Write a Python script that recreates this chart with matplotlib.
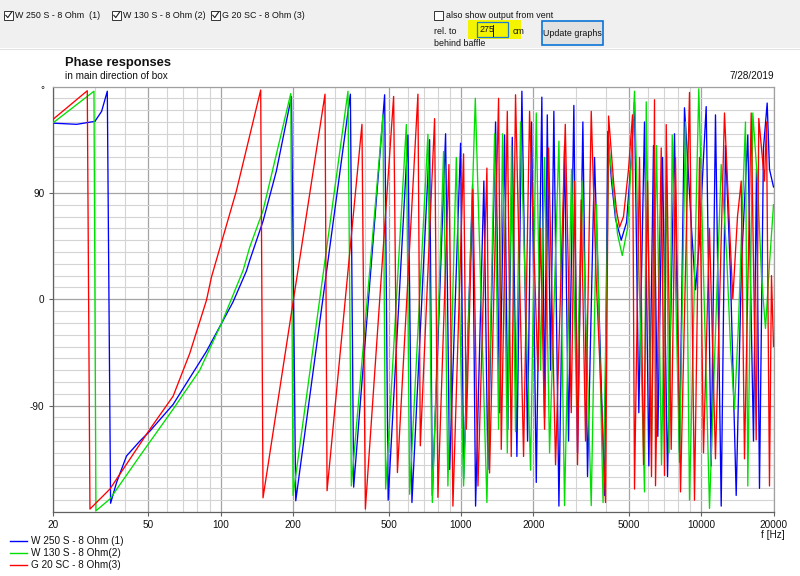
import matplotlib
matplotlib.use("Agg")
import matplotlib.pyplot as plt
from matplotlib.patches import Rectangle
from matplotlib.lines import Line2D
from matplotlib.ticker import FixedLocator, MultipleLocator, NullFormatter, LogLocator

plt.rcParams['font.family'] = ['Liberation Sans', 'DejaVu Sans']

# ---------------- data ----------------
series_names = ["W 250 S - 8 Ohm (1)", "W 130 S - 8 Ohm(2)", "G 20 SC - 8 Ohm(3)"]
top_names = ["W 250 S - 8 Ohm  (1)", "W 130 S - 8 Ohm (2)", "G 20 SC - 8 Ohm (3)"]
series_colors = ["#0000ff", "#00e000", "#ff0000"]

w250_freq = [20, 25.16, 29.98, 31.96, 33.75, 34.83, 36.89, 40.58, 46.11, 50.74, 63.42, 72.08,
             87.31, 100.8, 112.6, 128.1, 132.1, 150.1, 170.6, 197.1, 205.4, 346.7, 357.8,
             481.5, 498, 601.9, 625.4, 740.9, 760.3, 863.5, 897.3, 997, 1026, 1118, 1151,
             1246, 1295, 1394, 1449, 1520, 1568, 1636, 1710, 1794, 1894, 1968, 2059, 2172,
             2229, 2288, 2361, 2437, 2558, 2700, 2805, 2952, 3058, 3218, 3365, 3599, 3961,
             4088, 4235, 4400, 4648, 4890, 5081, 5279, 5501, 5810, 6055, 6333, 6600, 6904,
             7243, 7745, 8125, 8523, 8773, 9115, 9470, 9841, 10225, 10493, 11009, 11470,
             12116, 12623, 13245, 13988, 14717, 15632, 16509, 16990, 17487, 18169, 18823,
             19245, 20000]
w250_phase = [149, 148, 150.5, 159, 176, -172.6, -155, -132.6, -120, -111.6, -89, -71,
              -44, -20.5, -2.3, 24, 32.8, 66, 108.5, 171.6, -170.5, 173.5, -159,
              173, -170, 139, -172, 135, -166, 140, -144, 132, -152, 97, -175,
              100, -144, 150, -96, 139, -110, 137, -133, 176, -120, 150, -155, 171,
              -100, 156, -60, 159, -175, 130, -120, 164, -130, 150, -150, 120, -166,
              142, 100, 68, 50, 65, 110, 167, -96, 150, -141, 130, -116, 120,
              -150, 140, -130, 162, 120, 60, 8, 50, 120, 163, -141, 156,
              -175, 130, 20, -166, 30, 139, -120, 110, -160, 128, 166,
              110, 95]

w130_freq = [20, 29.70, 30.27, 34.60, 46.11, 63.42, 81.88, 100.8, 124.0, 132.1, 150.1, 195.8,
             200.2, 338.8, 350.0, 473.8, 486.1, 592.8, 611.8, 728.9, 760.3, 847.1, 882.7,
             956.8, 1026, 1148, 1283, 1381, 1435, 1491, 1560, 1625, 1688, 1771, 1949, 2059,
             2145, 2229, 2339, 2558, 2700, 2887, 3029, 3187, 3487, 3668, 3905, 4129, 4317,
             4486, 4693, 4937, 5130, 5279, 5810, 5906, 6213, 6518, 6838, 7173, 7348, 7577,
             8125, 8605, 8942, 9775, 10831, 12116, 12746, 13245, 13762, 14300, 14858, 15290,
             15632, 16402, 17154, 17824, 18519, 19245, 20000]
w130_phase = [149, 176, -179, -169, -132.6, -93, -60, -20.5, 24.4, 44, 75, 174,
              -166, 176, -158, 156, -160.6, 147.8, -165, 139.6, -172, 125, -158,
              120, -158, 170, -172, 140, -110, 140, -130, 130, -112, 150, -144.6, 157.6,
              -60, 120, -130, 133.8, -174.6, 110, -90, 100, -174.6, 80, -172, 130, 90,
              55, 37, 60, 120, 176, -163, 167, -120, 130, -140, 100, -130, 139,
              -138, 150, -170, 178, -177, 114, 40, -40, -93, -20, 80, 150,
              -158, 157.6, 100, 20, -24.7, 30, 80]

g20_freq = [20, 27.86, 28.58, 34.60, 50.74, 63.42, 74.41, 87.31, 91.59, 116.3, 146.8, 150.1,
            271.9, 277.3, 387.4, 400.3, 524.8, 544.2, 662.4, 677.7, 777.2, 802.2, 891.5,
            926.3, 1026, 1053, 1121.6, 1177.6, 1283, 1316, 1435, 1472, 1560, 1620, 1688,
            1823, 1931, 2090, 2145, 2229, 2317, 2477, 2719, 2879, 2971, 3058, 3168, 3302,
            3487, 3658, 3838, 3999, 4117, 4317, 4442, 4573, 4751, 4985, 5179, 5279, 5539,
            5755, 5980, 6213, 6394, 6456, 6819, 7037, 7154, 7504, 7819, 8203, 8942, 9380,
            9841, 10225, 10831, 11470, 12504, 12994, 13543, 14165, 14675, 15145, 16150,
            16942, 17369, 18344, 18699, 19245, 19617, 20000]
g20_phase = [152, 176.4, -177.5, -160.6, -110, -82, -45.7, -0.8, 18.8, 91.7, 177, -168,
             173.5, -162, 148, -177.5, 171.6, -146.6, 173.5, -124, 152.8, -167.6, 114,
             -175, 123, -110, 93, -158, 111, -147, 170, -127, 159, -133, 173,
             -133, 159, -61, 60, -110, 128, -140, 148, -96, 100, -140, 84, -120,
             159, 16, -82, -172, 155, 100, 75, 61, 70, 110, 156, -160.6, 120,
             -140, 100, -150, 168.8, -157.8, 128, -149, 147.8, -127, 119.7, -163, 175, -170,
             120, -130, 60, -135, 157.6, 80, 0.5, 70, 100, -135, 157.6,
             -119, 153, 100, 150, -158, 20, -40]

x_ticks = [20, 50, 100, 200, 500, 1000, 2000, 5000, 10000, 20000]
x_ticklabels = ["20", "50", "100", "200", "500", "1000", "2000", "5000", "10000", "20000"]
y_ticks = [-90, 0, 90]
y_ticklabels = ["-90", "0", "90"]

# ---------------- figure ----------------
W, H = 800, 576
fig = plt.figure(figsize=(W / 100, H / 100), dpi=100)
fig.patch.set_facecolor("white")


def fx(x):
    return x / W


def fy(y):
    return 1 - y / H


# top control bar
fig.patches.append(Rectangle((0, fy(48)), 1, 48 / H, transform=fig.transFigure,
                             facecolor="#f0f0f0", edgecolor="none", zorder=0))
fig.lines.append(Line2D([0, 1], [fy(48.5), fy(48.5)], transform=fig.transFigure,
                        color="#e2e2e2", lw=0.8))

FS = 7.2
FS_UI = 6.4


def checkbox(x, y, checked):
    fig.patches.append(Rectangle((fx(x), fy(y + 4.5)), 9 / W, 9 / H, transform=fig.transFigure,
                                 facecolor="white", edgecolor="#333333", lw=0.7, zorder=2))
    if checked:
        fig.lines.append(Line2D([fx(x + 1.8), fx(x + 3.8), fx(x + 7.5)],
                                [fy(y + 0.3), fy(y + 2.6), fy(y - 2.8)],
                                transform=fig.transFigure, color="#222222", lw=0.8, zorder=3))


box_x = [4, 112, 211]
text_x = [15, 123, 222]
for bx, tx, nm in zip(box_x, text_x, top_names):
    checkbox(bx, 15, True)
    fig.text(fx(tx), fy(15.5), nm, fontsize=FS_UI, va="center", ha="left", color="#111111")

checkbox(434, 15, False)
fig.text(fx(446), fy(15.5), "also show output from vent", fontsize=FS_UI, va="center", color="#111111")
fig.text(fx(434), fy(31), "rel. to", fontsize=FS_UI, va="center", color="#111111")
fig.text(fx(434), fy(43), "behind baffle", fontsize=FS_UI, va="center", color="#111111")
# yellow highlight and entry box
fig.patches.append(Rectangle((fx(468), fy(39)), 53 / W, 19 / H, transform=fig.transFigure,
                             facecolor="#f4f400", edgecolor="none", zorder=1))
fig.patches.append(Rectangle((fx(477), fy(37)), 31 / W, 15 / H, transform=fig.transFigure,
                             facecolor="none", edgecolor="#1a7ad6", lw=0.9, zorder=2))
fig.text(fx(480), fy(30), "275", fontsize=FS_UI, va="center", color="#111111", zorder=3)
fig.lines.append(Line2D([fx(493), fx(493)], [fy(24.5), fy(35.5)], transform=fig.transFigure,
                        color="#111111", lw=0.7, zorder=3))
fig.text(fx(513), fy(31), "cm", fontsize=FS_UI, va="center", color="#111111", zorder=3)
# button
fig.patches.append(Rectangle((fx(542), fy(45)), 61 / W, 24 / H, transform=fig.transFigure,
                             facecolor="#e1e1e1", edgecolor="#0a74d6", lw=1.2, zorder=2))
fig.text(fx(572.5), fy(33.5), "Update graphs", fontsize=FS_UI, va="center", ha="center",
         color="#111111", zorder=3)

# titles
fig.text(fx(65), fy(63), "Phase responses", fontsize=9.3, fontweight="bold", va="center", color="#111111")
fig.text(fx(65), fy(76), "in main direction of box", fontsize=FS, va="center", color="#111111")
fig.text(fx(774), fy(76), "7/28/2019", fontsize=FS, va="center", ha="right", color="#111111")

# ---------------- axes ----------------
x0, x1, y0, y1 = 52.7, 773.5, 86.5, 512
ax = fig.add_axes([fx(x0), fy(y1), (x1 - x0) / W, (y1 - y0) / H])
ax.set_xscale("log")
ax.set_xlim(20, 20000)
ax.set_ylim(-180, 180)

ax.xaxis.set_major_locator(FixedLocator(x_ticks))
ax.set_xticklabels(x_ticklabels)
ax.xaxis.set_minor_locator(LogLocator(base=10, subs=[1, 2, 3, 4, 5, 6, 7, 8, 9], numticks=30))
ax.xaxis.set_minor_formatter(NullFormatter())
ax.yaxis.set_major_locator(FixedLocator(y_ticks))
ax.set_yticklabels(y_ticklabels)
ax.yaxis.set_minor_locator(MultipleLocator(10))

ax.grid(True, which="minor", color="#d4d4d4", lw=0.8, zorder=0)
ax.grid(True, which="major", color="#a4a4a4", lw=0.9, zorder=0)
ax.set_axisbelow(True)
ax.tick_params(which="major", length=3, width=0.8, color="#606060", labelsize=FS,
               labelcolor="#111111")
ax.tick_params(axis="x", which="major", pad=2.5)
ax.tick_params(axis="y", which="major", pad=3)
ax.tick_params(which="minor", length=0)
for s in ax.spines.values():
    s.set_color("#a0a0a0")
    s.set_linewidth(0.9)
ax.spines["left"].set_color("#606060")
ax.spines["bottom"].set_color("#606060")

ax.text(-0.012, 177, "°", transform=ax.get_yaxis_transform(), ha="right", va="center",
        fontsize=FS, color="#111111")
ax.text(773 / W, fy(535), "f [Hz]", transform=fig.transFigure, ha="center", va="center",
        fontsize=FS, color="#111111")

for fr, ph, col in zip([w250_freq, w130_freq, g20_freq], [w250_phase, w130_phase, g20_phase],
                       series_colors):
    ax.plot(fr, ph, color=col, lw=0.95, zorder=3, clip_on=True)

# legend (bottom left)
for i, (nm, col) in enumerate(zip(series_names, series_colors)):
    yy = 541 + i * 12
    fig.lines.append(Line2D([fx(10), fx(27)], [fy(yy), fy(yy)], transform=fig.transFigure,
                            color=col, lw=1.0))
    fig.text(fx(31), fy(yy), nm, fontsize=FS, va="center", color="#111111")

fig.savefig("out.png", dpi=100)
